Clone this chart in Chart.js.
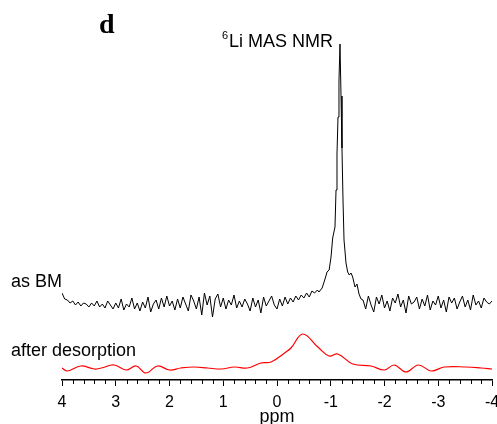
<!DOCTYPE html>
<html>
<head>
<meta charset="utf-8">
<script src="https://cdn.jsdelivr.net/npm/chart.js@4.4.0/dist/chart.umd.min.js"></script>
<style>
  html, body { margin: 0; padding: 0; background: #fff; }
</style>
</head>
<body>
<canvas id="nmrChart" width="497" height="424"></canvas>
<script>
// 6Li MAS NMR, as BM: noise left of the peak, every 0.05 ppm from 4.00 to -0.75
const bmLeftStart = 4.0;
const bmLeftNoise = [9, 3, 2, -1, 1, -3, 0, -4, -1, -2,
  -5, -1, -4, 1, -5, -2, -6, 1, -3, -7,
  -1, -6, 3, -8, -2, -5, 4, -7, -1, -9,
  0, -6, 5, -10, -2, 2, -7, 4, -5, 6,
  -4, 1, -8, 3, -6, 5, -2, -9, 7, 1,
  -7, 5, -13, 9, -3, 6, -15, 3, 8, -5,
  4, -7, 2, -3, 7, -6, 1, -5, 3, -2,
  -9, 4, -5, 2, -11, 5, -4, 1, 6, -3,
  -7, 3, -4, 5, -2, 4, 0, 6, 2, 7,
  4, 9, 5, 11, 9, 12];
// the peak itself
const bmPeakPpm = [-0.78, -0.84, -0.87, -0.91, -0.93, -0.97, -1.005, -1.036, -1.079, -1.098, -1.116, -1.135, -1.153,
  -1.172, -1.191, -1.209, -1.228, -1.247, -1.284, -1.315, -1.345, -1.377, -1.408, -1.451, -1.488, -1.526, -1.563];
const bmPeakInt = [10, 14, 19, 26, 30, 32, 45, 64, 75, 112, 148, 185, 221,
  258, 206, 154, 102, 62, 39, 30, 27, 29, 25, 15, 18, 8, 3];
// noise right of the peak, every 0.05 ppm from -1.60 to -4.00
const bmRightStart = -1.6;
const bmRightNoise = [2, -7, 6, -3, -10, 5, -2, 7, -6, 1,
  -9, 4, -1, 8, -5, 2, -11, 6, -2, 0,
  5, -7, 3, -4, 7, -8, 1, -3, 6, -6,
  2, -10, 5, -1, 4, -7, 0, 6, -5, 2,
  -8, 7, -3, 1, -6, 4, 0, -2, 1];

// after desorption
const desPpm = [4.0, 3.9, 3.65, 3.4, 3.27, 3.03, 2.81, 2.62, 2.44, 2.22, 2.0, 1.79, 1.54, 1.29, 1.04, 0.79, 0.55,
  0.3, 0.11, -0.14, -0.26, -0.48, -0.76, -0.97, -1.13, -1.41, -1.75, -2.0, -2.18, -2.4, -2.63, -2.87, -3.11, -3.52, -3.8, -4.0];
const desInt = [1, -2, 3, 0, 1, 4, -1, 3, -4, 3, -1, 1, 2, 1, 0, 2, 1,
  6, 7, 16, 21, 35, 22, 13, 15, 5, 3, -1, 4, -3, 4, -2, 2, 2, 1, 0];

const ppmMin = -4;
const ppmMax = 4;

const bmOffset = 78;
const desOffset = 11;

const bmData = [];
bmLeftNoise.forEach((v, i) => bmData.push({ x: +(bmLeftStart - i * 0.05).toFixed(2), y: v + bmOffset }));
bmPeakPpm.forEach((p, i) => bmData.push({ x: p, y: bmPeakInt[i] + bmOffset }));
bmRightNoise.forEach((v, i) => bmData.push({ x: +(bmRightStart - i * 0.05).toFixed(2), y: v + bmOffset }));

const desData = desPpm.map((p, i) => ({ x: p, y: desInt[i] + desOffset }));

const annotate = {
  id: 'annotate',
  afterDraw(chart) {
    const ctx = chart.ctx;
    const xs = chart.scales.x;
    const bottom = chart.chartArea.bottom;
    ctx.save();
    // minor ticks every 0.2 ppm
    ctx.strokeStyle = '#000';
    ctx.lineWidth = 1;
    for (let i = -20; i <= 20; i++) {
      if (i % 5 === 0) continue;
      const px = Math.round(xs.getPixelForValue(i / 5)) + 0.5;
      ctx.beginPath();
      ctx.moveTo(px, bottom);
      ctx.lineTo(px, bottom + 4);
      ctx.stroke();
    }
    ctx.fillStyle = '#000';
    ctx.textBaseline = 'alphabetic';
    ctx.textAlign = 'left';
    ctx.font = 'bold 28px "Liberation Serif"';
    ctx.fillText('d', 99, 33);
    ctx.font = '11px "Liberation Sans"';
    ctx.fillText('6', 222, 39);
    ctx.font = '18px "Liberation Sans"';
    ctx.fillText('Li MAS NMR', 229, 47);
    ctx.fillText('as BM', 11, 287);
    ctx.fillText('after desorption', 11, 356);
    ctx.textAlign = 'center';
    ctx.font = '18px "Liberation Sans"';
    ctx.fillText('ppm', xs.getPixelForValue(0), 422);
    ctx.restore();
  }
};

new Chart(document.getElementById('nmrChart'), {
  type: 'line',
  data: {
    datasets: [{
      label: 'as BM',
      data: bmData,
      borderColor: '#000',
      borderWidth: 1,
      pointRadius: 0,
      tension: 0,
      fill: false
    }, {
      label: 'after desorption',
      data: desData,
      borderColor: '#ff0000',
      borderWidth: 1.2,
      pointRadius: 0,
      tension: 0.4,
      fill: false
    }]
  },
  options: {
    responsive: false,
    animation: false,
    layout: { padding: { left: 62, right: 5, top: 40, bottom: 0 } },
    plugins: { legend: { display: false }, tooltip: { enabled: false } },
    scales: {
      x: {
        type: 'linear',
        reverse: true,
        min: ppmMin,
        max: ppmMax,
        afterFit: (s) => { s.height = 44; s.paddingLeft = 0; s.paddingRight = 0; },
        border: { display: true, color: '#000', width: 1.5 },
        grid: { drawOnChartArea: false, drawTicks: true, tickLength: 6, color: '#000', lineWidth: 1 },
        ticks: {
          stepSize: 1,
          padding: 7,
          color: '#000',
          maxRotation: 0,
          autoSkip: false,
          font: { family: '"Liberation Sans"', size: 16 }
        }
      },
      y: { display: false, min: 0, max: 340 }
    }
  },
  plugins: [annotate]
});
</script>
</body>
</html>
